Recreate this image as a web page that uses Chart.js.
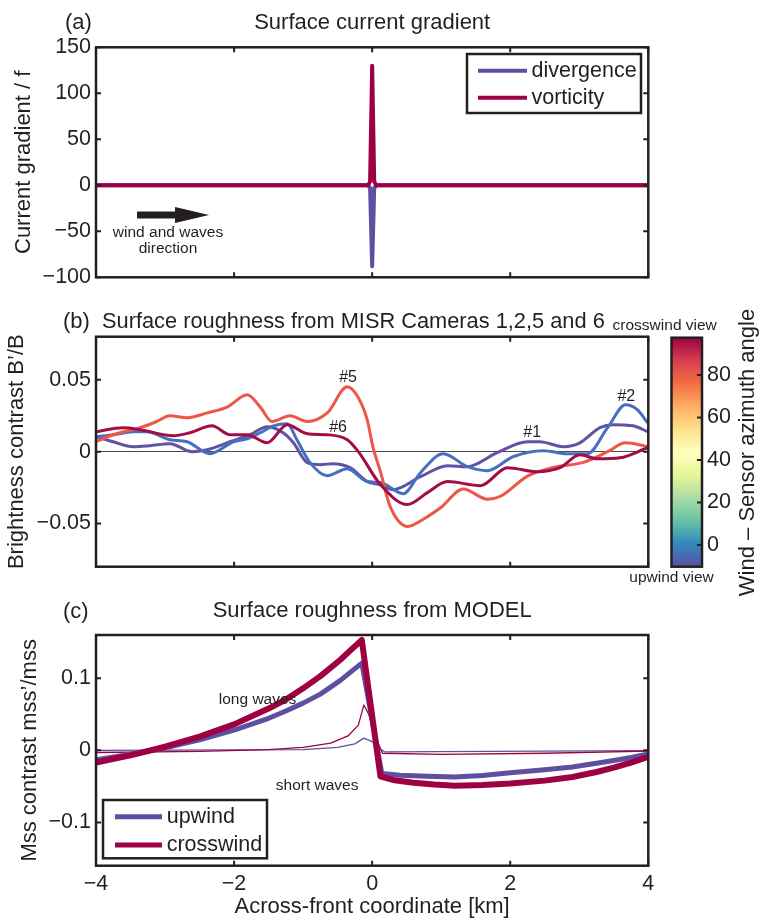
<!DOCTYPE html>
<html>
<head>
<meta charset="utf-8">
<script src="https://cdn.jsdelivr.net/npm/chart.js@4.4.1/dist/chart.umd.min.js"></script>
<style>
  html, body { margin: 0; padding: 0; background: #fff; }
  #wrap { position: relative; width: 760px; height: 920px; }
  .panel { position: absolute; left: 0; }
</style>
</head>
<body>
<div id="wrap">
  <div class="panel" style="top:0"><canvas id="chartA" width="760" height="300"></canvas></div>
  <div class="panel" style="top:300px"><canvas id="chartB" width="760" height="300"></canvas></div>
  <div class="panel" style="top:600px"><canvas id="chartC" width="760" height="320"></canvas></div>
  <div class="panel" style="top:300px;left:600px"><canvas id="colorbar" width="160" height="300"></canvas></div>
</div>
<script>
const ink = '#231f20';
const FONT = '"Liberation Sans", Arial, Helvetica, sans-serif';
const purple = '#5e4fa2';
const crimson = '#9e0142';

// shared x axis (km)
const xTicks = [-4, -2, 0, 2, 4];

// (a) current gradient
const aX = [-4, -0.06, -0.03, 0, 0.03, 0.06, 4];
const divergence = [0, 0, -3, -88, -3, 0, 0];
const vorticity = [0, 0, 4, 130, 4, 0, 0];
const aYTicks = [-100, -50, 0, 50, 100, 150];

// (b) MISR cameras brightness contrast
const cam5X = [-3.99, -3.75, -3.36, -3.12, -2.93, -2.68, -2.39, -2.10, -1.81, -1.62, -1.45, -1.19, -0.94, -0.65, -0.36, -0.20, -0.07, 0.01, 0.12, 0.26, 0.52, 0.74, 0.99, 1.32, 1.67, 1.86, 2.25, 2.62, 3.06, 3.41, 3.67, 3.99];
const cam5 = [0.0072, 0.0118, 0.0167, 0.021, 0.025, 0.0236, 0.027, 0.031, 0.0396, 0.031, 0.021, 0.025, 0.021, 0.027, 0.0451, 0.0375, 0.022, 0.0035, -0.0139, -0.038, -0.052, -0.047, -0.039, -0.026, -0.033, -0.031, -0.017, -0.011, -0.0074, 0, 0.0062, 0.0037];
const cam6X = [-3.99, -3.61, -3.36, -2.88, -2.64, -2.32, -2.06, -1.81, -1.52, -1.23, -0.94, -0.65, -0.36, -0.20, 0.12, 0.51, 0.80, 1.09, 1.57, 1.96, 2.39, 2.72, 3.01, 3.26, 3.59, 3.99];
const cam6 = [0.0139, 0.0167, 0.0153, 0.0111, 0.0132, 0.018, 0.0118, 0.0118, 0.0062, 0.0188, 0.0125, 0.0118, 0.0083, 0, -0.0229, -0.0368, -0.0285, -0.0208, -0.0236, -0.0111, -0.0139, -0.0111, -0.0021, -0.0049, -0.0042, 0.0028];
const cam1X = [-3.99, -3.75, -3.46, -3.22, -2.93, -2.61, -2.39, -2.06, -1.77, -1.52, -1.29, -1.14, -0.94, -0.75, -0.57, -0.32, -0.07, 0.12, 0.30, 0.70, 1.09, 1.38, 1.81, 2.25, 2.43, 2.77, 3.01, 3.30, 3.49, 3.78, 3.99];
const cam1 = [0.0104, 0.0069, 0.0035, 0.0042, 0.0056, 0, 0.0014, 0.0069, 0.0118, 0.0174, 0.0132, 0.0062, -0.0076, -0.009, -0.0083, -0.0111, -0.0208, -0.023, -0.0264, -0.0174, -0.0097, -0.0104, -0.0007, 0.0069, 0.0069, 0.0035, 0.0062, 0.0167, 0.0188, 0.018, 0.0139];
const cam2X = [-3.99, -3.75, -3.46, -3.26, -2.93, -2.68, -2.35, -2.01, -1.81, -1.62, -1.43, -1.23, -1.09, -0.90, -0.65, -0.36, -0.07, 0.12, 0.45, 0.70, 1.03, 1.38, 1.67, 2.04, 2.48, 2.83, 3.12, 3.41, 3.67, 3.84, 3.99];
const cam2 = [0.0104, 0.0118, 0.0139, 0.0139, 0.0083, 0.0069, -0.0014, 0.0069, 0.009, 0.0132, 0.018, 0.0194, 0.0083, -0.0076, -0.0167, -0.0118, -0.0208, -0.0215, -0.0292, -0.0146, -0.0014, -0.0104, -0.0132, -0.0035, 0.0007, -0.0014, -0.0014, 0.0167, 0.0326, 0.0292, 0.0201];
const bYTicks = [-0.05, 0, 0.05];

// (b) colour bar: wind - sensor azimuth angle
const cbMin = -10.2;
const cbMax = 97.5;
const cbTicks = [0, 20, 40, 60, 80];
const spectral = ['#5e4fa2', '#3288bd', '#66c2a5', '#abdda4', '#e6f598', '#ffffbf', '#fee08b', '#fdae61', '#f46d43', '#d53e4f', '#9e0142'];

// (c) model mss contrast
const crossX = [-4, -3.5, -3.0, -2.5, -2.0, -1.5, -1.25, -1.0, -0.75, -0.46, -0.3, -0.15, 0.12, 0.3, 0.6, 0.9, 1.2, 1.6, 2.0, 2.5, 2.9, 3.25, 3.5, 3.75, 4];
const crossLong = [-0.017, -0.007, 0.005, 0.019, 0.036, 0.058, 0.0705, 0.086, 0.103, 0.1257, 0.140, 0.153, -0.036, -0.041, -0.045, -0.0475, -0.049, -0.048, -0.046, -0.042, -0.037, -0.03, -0.024, -0.017, -0.009];
const upX = [-4, -3.5, -3.0, -2.5, -2.0, -1.5, -1.25, -1.0, -0.75, -0.46, -0.3, -0.15, 0.14, 0.4, 0.8, 1.2, 1.6, 2.0, 2.5, 2.9, 3.25, 3.5, 3.75, 4];
const upLong = [-0.013, -0.0055, 0.0035, 0.0145, 0.028, 0.0445, 0.0545, 0.0655, 0.078, 0.097, 0.1095, 0.121, -0.032, -0.0345, -0.036, -0.037, -0.035, -0.031, -0.027, -0.023, -0.018, -0.014, -0.01, -0.005];
const crossShortX = [-4, -2.5, -1.5, -1.0, -0.6, -0.35, -0.2, -0.12, -0.05, 0.05, 0.15, 1.0, 2.5, 4];
const crossShort = [-0.003, -0.0015, 0.001, 0.004, 0.01, 0.02, 0.035, 0.063, 0.05, 0.018, -0.004, -0.0056, -0.004, -0.001];
const upShortX = [-4, -1.0, -0.5, -0.25, -0.12, 0.0, 0.1, 0.18, 4];
const upShort = [0, 0.001, 0.004, 0.009, 0.017, 0.012, 0.003, -0.002, -0.0005];
const cYTicks = [-0.1, 0, 0.1];

const pts = (xs, ys) => xs.map((x, i) => ({ x: x, y: ys[i] }));
const fmt = v => (v < 0 ? '\u2212' : '') + Math.abs(v);
const font = (s) => s + 'px ' + FONT;

function line(label, xs, ys, color, width, smooth) {
  return {
    label: label, data: pts(xs, ys), borderColor: color, backgroundColor: color,
    borderWidth: width, pointRadius: 0, fill: false, borderJoinStyle: 'round',
    tension: 0, cubicInterpolationMode: smooth ? 'monotone' : 'default'
  };
}

// matlab-like box with inward ticks
const frame = {
  id: 'frame',
  afterDraw(chart, args, o) {
    const { ctx, chartArea: a } = chart;
    const tl = 5;
    ctx.save();
    ctx.strokeStyle = ink;
    ctx.lineWidth = 2;
    ctx.beginPath();
    const x = chart.scales.x, y = chart.scales.y;
    if (o.xTicks !== false) {
      x.ticks.forEach(t => {
        const p = x.getPixelForValue(t.value);
        ctx.moveTo(p, a.top); ctx.lineTo(p, a.top + tl);
        ctx.moveTo(p, a.bottom); ctx.lineTo(p, a.bottom - tl);
      });
    }
    y.ticks.forEach(t => {
      const p = y.getPixelForValue(t.value);
      if (o.leftTicks !== false) { ctx.moveTo(a.left, p); ctx.lineTo(a.left + tl, p); }
      ctx.moveTo(a.right, p); ctx.lineTo(a.right - tl, p);
    });
    ctx.stroke();
    ctx.lineWidth = 2.5;
    ctx.strokeRect(a.left, a.top, a.right - a.left, a.bottom - a.top);
    ctx.restore();
  }
};

// legend box inside the axes
const boxLegend = {
  id: 'boxLegend',
  afterDraw(chart, args, o) {
    if (!o.order) return;
    const { ctx, chartArea: a } = chart;
    const bx = a.left + o.dx, by = a.top + o.dy;
    ctx.save();
    ctx.fillStyle = '#fff';
    ctx.fillRect(bx, by, o.w, o.h);
    ctx.strokeStyle = ink;
    ctx.lineWidth = 2.5;
    ctx.strokeRect(bx, by, o.w, o.h);
    ctx.font = font(21.5);
    ctx.textBaseline = 'middle';
    ctx.textAlign = 'left';
    o.order.forEach((i, k) => {
      const ds = chart.data.datasets[i];
      const yy = by + o.first + k * o.rowH;
      ctx.strokeStyle = ds.borderColor;
      ctx.lineWidth = o.lineW;
      ctx.beginPath();
      ctx.moveTo(bx + o.x1, yy); ctx.lineTo(bx + o.x2, yy);
      ctx.stroke();
      ctx.fillStyle = ink;
      ctx.fillText(ds.label, bx + o.tx, yy);
    });
    ctx.restore();
  }
};

// free text and the wind arrow
const notes = {
  id: 'notes',
  afterDraw(chart, args, o) {
    const ctx = chart.ctx;
    const sx = chart.scales.x, sy = chart.scales.y;
    ctx.save();
    ctx.fillStyle = ink;
    if (o.arrow) {
      const ar = o.arrow;
      const x0 = sx.getPixelForValue(ar.x0), x1 = sx.getPixelForValue(ar.x1), x2 = sx.getPixelForValue(ar.x2);
      const yy = sy.getPixelForValue(ar.y);
      ctx.beginPath();
      ctx.moveTo(x0, yy - 3.5); ctx.lineTo(x1, yy - 3.5); ctx.lineTo(x1, yy - 8);
      ctx.lineTo(x2, yy); ctx.lineTo(x1, yy + 8); ctx.lineTo(x1, yy + 3.5);
      ctx.lineTo(x0, yy + 3.5); ctx.closePath();
      ctx.fill();
    }
    (o.items || []).forEach(it => {
      const px = it.data ? sx.getPixelForValue(it.x) : it.x;
      const py = it.data ? sy.getPixelForValue(it.y) : it.y;
      ctx.font = font(it.size || 22);
      ctx.textAlign = it.align || 'center';
      ctx.textBaseline = 'middle';
      if (it.rot) {
        ctx.save();
        ctx.translate(px, py);
        ctx.rotate(it.rot * Math.PI / 180);
        ctx.fillText(it.text, 0, 0);
        ctx.restore();
      } else {
        ctx.fillText(it.text, px, py);
      }
    });
    ctx.restore();
  }
};

function noPad(s) {
  s.paddingLeft = 0; s.paddingRight = 0; s.paddingTop = 0; s.paddingBottom = 0;
}

function panelOptions(cfg) {
  return {
    responsive: false,
    animation: false,
    devicePixelRatio: 1,
    layout: { padding: cfg.padding },
    plugins: {
      legend: { display: false },
      tooltip: { enabled: false },
      title: { display: false },
      frame: {},
      notes: { items: cfg.notes || [], arrow: cfg.arrow || null },
      boxLegend: cfg.legend || {}
    },
    scales: {
      x: {
        type: 'linear', min: -4, max: 4,
        afterBuildTicks: s => { s.ticks = xTicks.map(v => ({ value: v })); },
        ticks: { display: !!cfg.xLabels, padding: 5, autoSkip: false, maxRotation: 0, color: ink,
                 font: { family: FONT, size: 21.5 }, callback: fmt },
        grid: { display: false, drawTicks: false },
        border: { display: false },
        title: cfg.xTitle
          ? { display: true, text: cfg.xTitle, color: ink, font: { family: FONT, size: 22 }, padding: { top: 0, bottom: 0 } }
          : { display: false },
        afterFit: s => { s.height = cfg.xHeight || 0; noPad(s); }
      },
      y: {
        type: 'linear', min: cfg.yMin, max: cfg.yMax,
        afterBuildTicks: s => { s.ticks = cfg.yTicks.map(v => ({ value: v })); },
        ticks: { padding: 5, color: ink, font: { family: FONT, size: 21.5 }, callback: fmt },
        grid: cfg.zeroLine
          ? { display: true, drawTicks: false, lineWidth: 1,
              color: c => (c.tick && c.tick.value === 0 ? '#4a4a4a' : 'rgba(0,0,0,0)') }
          : { display: false, drawTicks: false },
        border: { display: false },
        title: { display: true, text: cfg.yTitle, color: ink, font: { family: FONT, size: 22 }, padding: { top: cfg.yTitlePad, bottom: 0 } },
        afterFit: s => { s.width = 96; noPad(s); }
      }
    }
  };
}

// (a)
new Chart(document.getElementById('chartA'), {
  type: 'line',
  data: {
    datasets: [
      line('vorticity', aX, vorticity, crimson, 4, false),
      line('divergence', aX, divergence, purple, 4, false)
    ]
  },
  options: panelOptions({
    padding: { left: 0, right: 111.7, top: 47.3, bottom: 22.7 },
    yMin: -100, yMax: 150, yTicks: aYTicks,
    yTitle: 'Current gradient / f', yTitlePad: 10.4,
    legend: { order: [1, 0], dx: 371, dy: 6.7, w: 174, h: 59, first: 16.7, rowH: 27, x1: 11, x2: 60, tx: 64.5, lineW: 4 },
    arrow: { x0: -3.406, x1: -2.855, x2: -2.362, y: -32.3 },
    notes: [
      { text: '(a)', x: 65, y: 22.5, align: 'left' },
      { text: 'Surface current gradient', x: 372.2, y: 22.5 },
      { text: 'wind and waves', x: -2.957, y: -52, data: true, size: 15.5 },
      { text: 'direction', x: -2.957, y: -68.5, data: true, size: 15.5 }
    ]
  }),
  plugins: [frame, boxLegend, notes]
});

// (b)
new Chart(document.getElementById('chartB'), {
  type: 'line',
  data: {
    datasets: [
      line('Camera 6', cam6X, cam6, '#a30d45', 3, true),
      line('Camera 5', cam5X, cam5, '#ec5748', 3, true),
      line('Camera 2', cam2X, cam2, '#4670bf', 3, true),
      line('Camera 1', cam1X, cam1, '#6351a6', 3, true)
    ]
  },
  options: panelOptions({
    padding: { left: 0, right: 111.7, top: 36.7, bottom: 33.3 },
    yMin: -0.08, yMax: 0.08, yTicks: bYTicks, zeroLine: true,
    yTitle: 'Brightness contrast B\u2019/B', yTitlePad: 3.6,
    notes: [
      { text: '(b)', x: 63, y: 22, align: 'left' },
      { text: 'Surface roughness from MISR Cameras 1,2,5 and 6', x: 102, y: 21.5, align: 'left', size: 21.8 },
      { text: '#5', x: -0.348, y: 0.0514, data: true, size: 16 },
      { text: '#6', x: -0.493, y: 0.0167, data: true, size: 16 },
      { text: '#1', x: 2.319, y: 0.0132, data: true, size: 16 },
      { text: '#2', x: 3.681, y: 0.0382, data: true, size: 16 }
    ]
  }),
  plugins: [frame, notes]
});

// (b) colour bar
new Chart(document.getElementById('colorbar'), {
  type: 'bar',
  data: {
    labels: ['angle'],
    datasets: [{
      data: [[cbMin, cbMax]],
      borderWidth: 0,
      barPercentage: 1,
      categoryPercentage: 1,
      backgroundColor: c => {
        const ch = c.chart;
        if (!ch.chartArea) return spectral[0];
        const y = ch.scales.y;
        const g = ch.ctx.createLinearGradient(0, y.getPixelForValue(cbMin), 0, y.getPixelForValue(cbMax));
        spectral.forEach((col, i) => g.addColorStop(i / (spectral.length - 1), col));
        return g;
      }
    }]
  },
  options: {
    responsive: false,
    animation: false,
    devicePixelRatio: 1,
    layout: { padding: { left: 71.5, right: 0, top: 37.7, bottom: 33.3 } },
    plugins: {
      legend: { display: false },
      tooltip: { enabled: false },
      frame: { xTicks: false, leftTicks: false },
      notes: {
        items: [
          { text: 'crosswind view', x: 64.7, y: 26, size: 15.5 },
          { text: 'upwind view', x: 71.5, y: 277.5, size: 15.5 },
          { text: 'Wind \u2013 Sensor azimuth angle', x: 147.5, y: 152.5, rot: -90 }
        ]
      }
    },
    scales: {
      x: {
        display: true,
        ticks: { display: false },
        grid: { display: false, drawTicks: false },
        border: { display: false },
        afterFit: s => { s.height = 0; noPad(s); }
      },
      y: {
        position: 'right', min: cbMin, max: cbMax,
        afterBuildTicks: s => { s.ticks = cbTicks.map(v => ({ value: v })); },
        ticks: { padding: 5, color: ink, font: { family: FONT, size: 21.5 } },
        grid: { display: false, drawTicks: false },
        border: { display: false },
        afterFit: s => { s.width = 58; noPad(s); }
      }
    }
  },
  plugins: [frame, notes]
});

// (c)
new Chart(document.getElementById('chartC'), {
  type: 'line',
  data: {
    datasets: [
      line('crosswind', crossX, crossLong, crimson, 6, false),
      line('upwind', upX, upLong, purple, 5, false),
      line('crosswind short', crossShortX, crossShort, crimson, 1.3, false),
      line('upwind short', upShortX, upShort, purple, 1.3, false)
    ]
  },
  options: panelOptions({
    padding: { left: 0, right: 111.7, top: 35, bottom: 0 },
    yMin: -0.16, yMax: 0.16, yTicks: cYTicks,
    yTitle: 'Mss contrast mss\u2019/mss', yTitlePad: 16.4,
    xLabels: true, xHeight: 54.3, xTitle: 'Across-front coordinate [km]',
    legend: { order: [1, 0], dx: 7, dy: 165, w: 164, h: 58.3, first: 16.7, rowH: 28.3, x1: 12, x2: 59, tx: 63.7, lineW: 5 },
    notes: [
      { text: '(c)', x: 63, y: 11.5, align: 'left' },
      { text: 'Surface roughness from MODEL', x: 372.2, y: 10.7 },
      { text: 'long waves', x: -1.66, y: 0.0703, data: true, size: 15.5 },
      { text: 'short waves', x: -0.797, y: -0.0497, data: true, size: 15.5 }
    ]
  }),
  plugins: [frame, boxLegend, notes]
});
</script>
</body>
</html>
